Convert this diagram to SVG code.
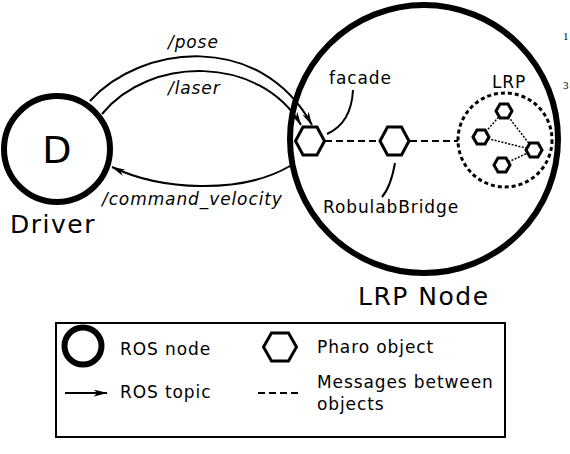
<svg xmlns="http://www.w3.org/2000/svg" width="570" height="454" viewBox="0 0 570 454">
<defs>
<style>
.t{font-family:"DejaVu Sans","Bitstream Vera Sans",sans-serif;fill:#000}
.s{font-size:17px;letter-spacing:0.9px}
.it{font-style:italic}
.big{font-size:25px;letter-spacing:1.5px}
.hex{fill:#fff;stroke:#000;stroke-width:3;stroke-linejoin:miter}
.shex{fill:#fff;stroke:#000;stroke-width:3}
.arr{fill:none;stroke:#000;stroke-width:2;marker-end:url(#ah)}
.dash{fill:none;stroke:#000;stroke-width:2;stroke-dasharray:7,4}
.dot{fill:none;stroke:#000;stroke-width:1.5;stroke-dasharray:2,1.5}
.lead{fill:none;stroke:#000;stroke-width:2}
</style>
<marker id="ah" viewBox="0 0 14 7" refX="13.5" refY="3.5" markerWidth="14" markerHeight="7" markerUnits="userSpaceOnUse" orient="auto">
<path d="M0,0 L14,3.5 L0,7 L4,3.5 z" fill="#000"/>
</marker>
</defs>
<rect width="570" height="454" fill="#fff"/>

<g id="connectors">
<path class="arr" d="M90,101 C140,45 260,30 312,125"/>
<path class="arr" d="M102,114 C150,55 260,55 301,125"/>
<path class="arr" d="M290,166 C240,195 160,190 112,167"/>
<path class="dash" d="M325,141 L380,141"/>
<path class="dash" d="M410,141 L458,141"/>
<path class="dot" d="M504,111 L534,150"/>
<path class="dot" d="M481,137 L534,150"/>
<path class="dot" d="M481,137 L504,111"/>
<path class="dot" d="M502,165 L534,150"/>
<path class="lead" d="M353,90 C352,110 345,126 327,134"/>
<path class="lead" d="M395,163 C392,180 388,190 382,197"/>
</g>

<g id="lrp-node">
<circle cx="424" cy="139" r="134" fill="none" stroke="#000" stroke-width="6"/>
<text class="t big" x="358" y="305">LRP Node</text>
</g>

<g id="driver">
<circle cx="57" cy="149" r="53" fill="none" stroke="#000" stroke-width="6"/>
<text class="t" x="57" y="163" font-size="38" text-anchor="middle">D</text>
<text class="t big" x="10" y="233">Driver</text>
</g>

<g id="topic-labels">
<text class="t s it" x="168" y="48">/pose</text>
<text class="t s it" x="168" y="94">/laser</text>
<text class="t s it" x="102" y="205">/command_velocity</text>
</g>

<g id="facade">
<path class="hex" d="M295.5,141 L303,127 L317,127 L324.5,141 L317,155 L303,155 Z"/>
<text class="t s" x="329" y="84">facade</text>
</g>

<g id="robulab-bridge">
<path class="hex" d="M380,141 L387.5,127 L401.5,127 L409,141 L401.5,155 L387.5,155 Z"/>
<text class="t s" x="323" y="213">RobulabBridge</text>
</g>

<g id="lrp">
<circle cx="505" cy="140" r="47" fill="none" stroke="#000" stroke-width="3" stroke-dasharray="4,3"/>
<text class="t s" x="492" y="88">LRP</text>
<path class="shex" d="M496,111 L500,104 L508,104 L512,111 L508,118 L500,118 Z"/>
<path class="shex" d="M473,137 L477,130 L485,130 L489,137 L485,144 L477,144 Z"/>
<path class="shex" d="M526,150 L530,143 L538,143 L542,150 L538,157 L530,157 Z"/>
<path class="shex" d="M494,165 L498,158 L506,158 L510,165 L506,172 L498,172 Z"/>
</g>

<g id="page-numbers">
<text x="563" y="40" font-family="Liberation Serif,serif" font-size="11">1</text>
<text x="563" y="89" font-family="Liberation Serif,serif" font-size="11">3</text>
</g>

<g id="legend">
<rect x="56" y="323" width="449" height="114" fill="none" stroke="#000" stroke-width="2"/>
<circle cx="83" cy="346" r="18.5" fill="none" stroke="#000" stroke-width="6"/>
<text class="t s" x="120" y="355">ROS node</text>
<path class="hex" d="M263.5,347 L271.5,333 L288.5,333 L296.5,347 L288.5,361 L271.5,361 Z"/>
<text class="t s" x="317" y="353">Pharo object</text>
<path class="arr" d="M65,393 L107,393"/>
<text class="t s" x="120" y="398">ROS topic</text>
<path class="dash" d="M258,393 L298,393"/>
<text class="t s" x="317" y="388">Messages between</text>
<text class="t s" x="317" y="410">objects</text>
</g>
</svg>
